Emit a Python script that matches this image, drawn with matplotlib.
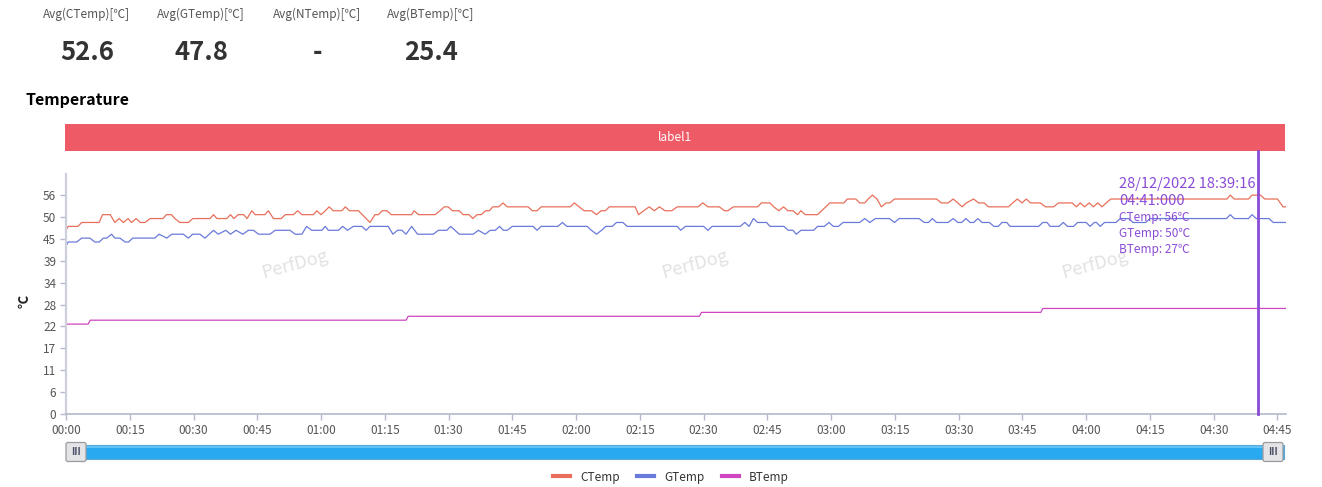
import numpy as np
import matplotlib
matplotlib.use('Agg')
import matplotlib.pyplot as plt
from matplotlib.patches import Rectangle, FancyBboxPatch

plt.rcParams['font.family'] = ['Noto Sans CJK SC', 'DejaVu Sans']

W, H = 1322, 487

# summary numbers on top
avg_names = ['Avg(CTemp)[℃]', 'Avg(GTemp)[℃]', 'Avg(NTemp)[℃]', 'Avg(BTemp)[℃]']
avg_values = ['52.6', '47.8', '-', '25.4']

series_names = ['CTemp', 'GTemp', 'BTemp']
series_colors = ['#E8705B', '#6A7ADB', '#CF45C2']

# (second, value) vertices
ctemp_pts = [(0, 47), (0.5, 48), (2.8, 48), (3.7, 49), (7.8, 49), (8.6, 51), (10.4, 51), (11.5, 49),
             (12.5, 50), (13.5, 49), (14.6, 50), (15.4, 49), (16.5, 50), (17.5, 49), (18.6, 49), (19.8, 50),
             (22.8, 50), (23.6, 51), (24.8, 51), (25.6, 50), (26.8, 49), (28.8, 49), (29.8, 50), (33.9, 50),
             (34.7, 51), (35.5, 50), (37.8, 50), (38.7, 51), (39.5, 50), (40.5, 51), (41.8, 51), (42.6, 50),
             (43.7, 52), (44.5, 51), (46.8, 51), (47.6, 52), (48.8, 50), (50.6, 50), (51.6, 51), (53.5, 51),
             (54.5, 52), (55.5, 51), (58.2, 51), (59, 52), (60, 51), (61, 52), (61.9, 53), (62.9, 52),
             (64.9, 52), (65.7, 53), (66.7, 52), (68.8, 52), (71.5, 49), (72.7, 51), (73.5, 51), (74.4, 52),
             (75.5, 52), (76.5, 51), (81.3, 51), (81.9, 52), (82.9, 51), (86.8, 51), (88, 52), (89, 53),
             (89.9, 53), (90.9, 52), (92.5, 52), (93.4, 51), (94.8, 51), (95.7, 50), (96.7, 51), (97.7, 51),
             (98.7, 52), (99.6, 52), (100.4, 53), (101.8, 53), (102.8, 54), (103.8, 53), (108.7, 53), (109.7, 52),
             (110.8, 52), (111.8, 53), (118.6, 53), (119.6, 54), (120.7, 53), (121.9, 52), (123.6, 52), (124.8, 51),
             (125.9, 52), (126.9, 52), (127.8, 53), (133.9, 53), (134.7, 51), (135.9, 52), (137.2, 53), (138.4, 52),
             (139.6, 53), (140.9, 52), (142.5, 52), (143.8, 53), (148.7, 53), (149.8, 54), (151, 53), (153.7, 53),
             (154.9, 52), (155.7, 52), (157, 53), (162.7, 53), (163.6, 54), (165.6, 54), (166.5, 53), (167.7, 52),
             (168.8, 53), (169.8, 52), (171, 52), (172.1, 51), (172.9, 52), (173.9, 51), (176.8, 51), (179.7, 54),
             (183, 54), (183.8, 55), (185.8, 55), (186.7, 54), (187.9, 54), (188.7, 55), (189.7, 56), (190.8, 55),
             (191.8, 53), (192.9, 54), (193.8, 54), (194.9, 55), (204.8, 55), (205.9, 54), (207.5, 54), (208.7, 55),
             (209.8, 54), (210.8, 53), (211.8, 54), (213.5, 55), (214.7, 54), (216, 54), (217, 53), (221.7, 53),
             (222.7, 54), (223.8, 55), (224.9, 54), (225.9, 55), (226.9, 54), (229.2, 54), (230.4, 53), (232.3, 53),
             (233.5, 54), (236.7, 54), (237.7, 53), (238.6, 54), (239.6, 53), (240.7, 54), (241.7, 53), (242.7, 54),
             (243.7, 53), (244.7, 54), (245.8, 55), (273.1, 55), (273.9, 56), (274.8, 55), (278.2, 55), (279, 56),
             (281, 56), (282, 55), (285, 55), (286.3, 53), (287, 53)]

gtemp_pts = [(0, 43), (0.5, 44), (2.5, 44), (3.7, 45), (5.6, 45), (6.8, 44), (7.8, 44), (8.8, 45),
             (9.6, 45), (10.7, 46), (11.5, 45), (12.7, 45), (13.9, 44), (14.7, 44), (15.7, 45), (20.9, 45),
             (21.9, 46), (23.7, 45), (24.9, 46), (27.6, 46), (28.8, 45), (29.8, 46), (31.5, 46), (32.7, 45),
             (33.7, 46), (34.7, 47), (35.8, 46), (37.6, 47), (38.7, 46), (40, 47), (41.6, 46), (42.9, 47),
             (44.1, 47), (45.3, 46), (48, 46), (49.2, 47), (52.7, 47), (53.9, 46), (55.5, 46), (56.6, 48),
             (57.8, 47), (60.2, 47), (61, 48), (61.7, 47), (64.1, 47), (65.1, 48), (66.2, 47), (67.6, 48),
             (69.6, 48), (70.6, 47), (71.5, 48), (75.8, 48), (76.9, 46), (78, 47), (79, 47), (80, 46),
             (81.3, 48), (82.7, 46), (86.4, 46), (87.6, 47), (89.6, 47), (90.5, 48), (91.5, 47), (92.5, 46),
             (95.8, 46), (97, 47), (98.6, 46), (99.8, 47), (101, 47), (102, 48), (102.9, 47), (103.8, 47),
             (105, 48), (109.9, 48), (110.8, 47), (111.8, 48), (115.7, 48), (116.8, 49), (117.8, 48), (122.6, 48),
             (123.6, 47), (124.8, 46), (126, 47), (127, 48), (128.5, 48), (129.5, 49), (131, 49), (132, 48),
             (143.8, 48), (144.6, 47), (145.7, 48), (150, 48), (151, 47), (152, 48), (158.6, 48), (159.7, 49),
             (160.7, 48), (161.7, 50), (162.7, 49), (164.8, 49), (165.6, 48), (168.9, 48), (169.9, 47), (171, 47),
             (171.8, 46), (172.9, 47), (175.9, 47), (176.8, 48), (178.4, 48), (179.5, 49), (180.5, 48), (181.7, 48),
             (182.8, 49), (186.7, 49), (187.9, 50), (189.1, 49), (190.4, 50), (193.7, 50), (194.9, 49), (196, 50),
             (200.7, 50), (201.9, 49), (202.9, 49), (203.8, 50), (204.8, 49), (207.5, 49), (208.7, 50), (209.8, 49),
             (210.7, 49), (211.7, 50), (212.7, 49), (213.5, 49), (214.5, 50), (215.5, 49), (217.2, 49), (218.3, 48),
             (219.3, 48), (220.2, 49), (221.3, 49), (222.1, 48), (228.8, 48), (229.8, 49), (230.8, 49), (231.5, 48),
             (233.6, 48), (234.6, 49), (235.6, 48), (237, 48), (238, 49), (240, 49), (240.9, 48), (241.9, 49),
             (242.4, 49), (243.3, 48), (244.3, 49), (247, 49), (248, 50), (250, 50), (251, 49), (254, 49),
             (255, 50), (273, 50), (273.9, 51), (274.8, 50), (278.2, 50), (279, 51), (280, 50), (283, 50),
             (284, 49), (287, 49)]

btemp_pts = [(0, 23), (5.2, 23), (5.7, 24), (80, 24), (80.5, 25), (149, 25), (149.5, 26),
             (229.3, 26), (229.8, 27), (287, 27)]

ytick_vals = [0, 5.6, 11.2, 16.8, 22.4, 28, 33.6, 39.2, 44.8, 50.4, 56]
ytick_labels = ['0', '6', '11', '17', '22', '28', '34', '39', '45', '50', '56']
xtick_secs = list(range(0, 286, 15))
x_end = 287
y_top = 61.4

cursor_sec = 280.3
cursor_stamp = ['28/12/2022 18:39:16', '04:41:000']
band_label = 'label1'

PURPLE = '#8A4BD6'


def fx(x):
    return x / W


def fy(y):
    return 1 - y / H


fig = plt.figure(figsize=(W / 100, H / 100), dpi=100, facecolor='white')

# background overlay in pixel coords for the page decorations
deco = fig.add_axes([0, 0, 1, 1], zorder=0)
deco.set_xlim(0, W)
deco.set_ylim(H, 0)
deco.axis('off')

for name, val, cx in zip(avg_names, avg_values, [87, 201, 317, 431]):
    deco.text(cx, 14, name, ha='center', va='center', fontsize=8.5, color='#555555')
    deco.text(cx, 52, val, ha='center', va='center', fontsize=18.5, fontweight='bold', color='#333333')

deco.text(25, 100, 'Temperature', ha='left', va='center', fontsize=11.5, fontweight='bold', color='#000000')

# label band above the plot
deco.add_patch(Rectangle((65, 124), 1220, 27, facecolor='#EE5B67', edgecolor='none'))
deco.text(675, 137.5, band_label, ha='center', va='center', fontsize=8.5, color='white')

# data zoom slider
deco.add_patch(Rectangle((66, 445), 1218, 14, facecolor='#29A9F0', edgecolor='#5AA7D8', lw=0.8))
deco.add_patch(Rectangle((66, 445.5), 1218, 2, facecolor='#62C3F6', edgecolor='none'))
for hx in [66, 1263]:
    deco.add_patch(FancyBboxPatch((hx, 442.5), 20, 19, boxstyle='round,pad=0,rounding_size=2',
                                  facecolor='#E4E4E6', edgecolor='#9A9AA0', lw=0.9))
    deco.text(hx + 10, 452, 'III', ha='center', va='center', fontsize=7, color='#4A4E66', fontweight='bold')

# main chart
ax = fig.add_axes([fx(66), fy(414), (1286 - 66) / W, (414 - 174) / H], zorder=1)
ax.patch.set_alpha(0)

lines = []
for pts, name, col in zip([ctemp_pts, gtemp_pts, btemp_pts], series_names, series_colors):
    t, v = zip(*pts)
    ln, = ax.plot(t, v, color=col, lw=0.9, label=name)
    lines.append(ln)

ax.set_xlim(0, x_end)
ax.set_ylim(0, y_top)
ax.set_yticks(ytick_vals)
ax.set_yticklabels(ytick_labels)
ax.set_xticks(xtick_secs)
ax.set_xticklabels(['%02d:%02d' % (s // 60, s % 60) for s in xtick_secs])

for s in ['top', 'right']:
    ax.spines[s].set_visible(False)
ax.spines['left'].set_color('#CDD0DC')
ax.spines['left'].set_linewidth(1.6)
ax.spines['bottom'].set_color('#B4B8CA')
ax.spines['bottom'].set_linewidth(1.2)
ax.tick_params(axis='both', length=4, width=1, color='#B4B8CA', labelsize=8.5,
               labelcolor='#555555', pad=3)

deco.text(25, 301, '℃', ha='center', va='center', rotation=90, fontsize=9.5, fontweight='bold', color='#222222')

# cursor + tooltip
ax.plot([cursor_sec, cursor_sec], [0, y_top * (414 - 151) / (414 - 174)], color=PURPLE, lw=2,
        clip_on=False, zorder=5)

fig.text(fx(1119), fy(184), cursor_stamp[0], ha='left', va='center', fontsize=10.5, color=PURPLE)
fig.text(fx(1119), fy(201), cursor_stamp[1], ha='left', va='center', fontsize=10.5, color=PURPLE)
for i, (pts, name) in enumerate(zip([ctemp_pts, gtemp_pts, btemp_pts], series_names)):
    t, v = zip(*pts)
    val = np.interp(cursor_sec, t, v)
    fig.text(fx(1119), fy(218 + 16 * i), '%s: %d℃' % (name, round(val)), ha='left', va='center',
             fontsize=8.5, color=PURPLE)

# watermark
for wx in [295, 695, 1095]:
    fig.text(fx(wx), fy(264), 'PerfDog', ha='center', va='center', rotation=15, fontsize=13,
             color='#E2E2E2', zorder=0.5)

leg = fig.legend(handles=lines, loc='center', bbox_to_anchor=(fx(671), fy(477)), ncol=3,
                 frameon=False, fontsize=8.5, handlelength=1.45, handletextpad=0.85,
                 columnspacing=1.45, labelcolor='#333333')
for h in leg.legend_handles:
    h.set_linewidth(3)

fig.savefig('out.png', dpi=100, facecolor='white')
